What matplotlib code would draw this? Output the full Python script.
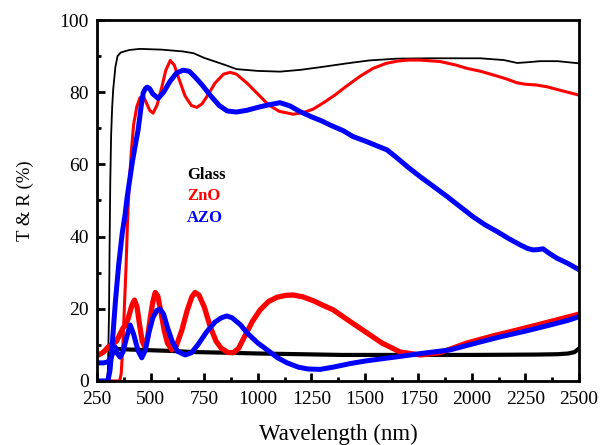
import matplotlib
matplotlib.use('Agg')
import matplotlib.pyplot as plt
from matplotlib.ticker import MultipleLocator

plt.rcParams['font.family'] = ['Liberation Serif', 'DejaVu Serif']

# Glass transmittance / reflectance
glass_t_wl = [250, 295, 300, 305, 308, 311, 315, 320, 325, 335, 345, 360, 400, 450, 550, 650, 700,
              750, 800, 850, 900, 1000, 1104, 1200, 1300, 1417, 1520, 1650, 1800, 1900, 2038,
              2150, 2211, 2260, 2318, 2400, 2500]
glass_t = [0, 0, 3, 18, 38, 55, 68, 76, 81, 87, 90, 91, 91.7, 92, 91.8, 91.3, 90.8,
           89.5, 88.5, 87.5, 86.4, 85.9, 85.7, 86.2, 87, 88, 88.8, 89.3, 89.4, 89.4, 89.4,
           88.9, 88.1, 88.3, 88.6, 88.6, 88.0]
glass_r_wl = [300, 365, 400, 500, 600, 700, 861, 1000, 1200, 1392, 1600, 2000, 2300, 2400, 2450, 2480, 2500]
glass_r = [9.0, 8.8, 8.7, 8.5, 8.3, 8.0, 7.8, 7.6, 7.4, 7.2, 7.2, 7.2, 7.3, 7.4, 7.6, 8.0, 9.0]

# ZnO
zno_t_wl = [250, 355, 362, 370, 378, 385, 392, 400, 410, 420, 435, 450, 465, 480, 495, 511, 530, 550,
            570, 591, 610, 630, 660, 690, 715, 740, 770, 800, 840, 871, 900, 950, 1000, 1050, 1100,
            1165, 1210, 1258, 1310, 1360, 1417, 1480, 1538, 1600, 1650, 1700, 1758, 1851, 1920, 1977,
            2040, 2099, 2160, 2211, 2250, 2300, 2351, 2420, 2500]
zno_t = [0, 0, 2, 10, 22, 32, 45, 55, 64, 71, 76, 78.5, 79, 77, 75, 74.2, 76.5, 81,
         86, 88.8, 87.5, 84, 79, 76.3, 75.8, 76.8, 79.5, 82.5, 85, 85.5, 85, 82.5, 79.5, 76.5, 74.7,
         73.9, 74.3, 75.3, 77.2, 79.2, 81.8, 84.5, 86.6, 88, 88.6, 88.9, 88.9, 88.5, 87.6, 86.6,
         85.8, 84.8, 83.7, 82.6, 82.2, 82.0, 81.5, 80.4, 79.2]
zno_r_wl = [250, 280, 301, 340, 371, 385, 398, 412, 424, 436, 448, 460, 472, 485, 498, 510, 521, 533,
            548, 563, 578, 599, 620, 645, 670, 692, 707, 725, 750, 778, 805, 830, 860, 885, 910, 940,
            975, 1011, 1050, 1090, 1130, 1165, 1210, 1260, 1310, 1352, 1430, 1510, 1580, 1665, 1758,
            1850, 1977, 2100, 2211, 2350, 2500]
zno_r = [7, 8, 9.4, 11, 14.7, 15.5, 18, 21, 22.4, 20.5, 15.5, 11, 9.5, 12, 17.5, 22, 24.5, 23.5,
         19, 14, 10.5, 8.6, 9.8, 14, 19.5, 23.3, 24.5, 23.8, 20.5, 15, 11, 9, 7.9, 7.8, 9, 12.5,
         16.5, 19.7, 22, 23.2, 23.7, 23.8, 23.3, 22.2, 20.8, 19.7, 16.5, 13.3, 10.5, 8.0, 7.2,
         7.8, 10.5, 12.5, 14.1, 16.2, 18.5]

# AZO
azo_t_wl = [250, 300, 310, 320, 335, 350, 367, 380, 390, 400, 415, 430, 441, 455, 465, 475, 483, 495,
            510, 535, 560, 590, 620, 650, 680, 710, 740, 780, 820, 857, 900, 950, 1000, 1050, 1104,
            1150, 1198, 1250, 1300, 1338, 1400, 1445, 1500, 1550, 1604, 1650, 1700, 1758, 1820, 1884,
            1940, 2005, 2060, 2117, 2170, 2225, 2260, 2285, 2310, 2332, 2360, 2397, 2450, 2500]
azo_t = [0, 0, 3, 10, 22, 32, 41, 46, 51, 55, 61, 66, 69.5, 76, 79.8, 81, 81.4, 81,
         79.5, 78.3, 80, 83, 85.3, 86.1, 85.8, 84, 82, 79, 76.3, 74.8, 74.5, 75, 75.8, 76.5, 77.1,
         76.2, 74.6, 73.2, 72, 70.9, 69.3, 67.7, 66.5, 65.3, 64, 61.8, 59.3, 56.6, 53.9, 51.1,
         48.5, 45.5, 43.3, 41.4, 39.5, 37.7, 36.7, 36.3, 36.4, 36.6, 35.4, 34, 32.5, 30.8]
azo_r_wl = [250, 280, 300, 315, 334, 345, 357, 370, 385, 404, 420, 440, 458, 475, 492, 510, 528, 544,
            560, 580, 600, 625, 661, 690, 720, 760, 800, 830, 855, 880, 920, 950, 1000, 1044, 1090,
            1137, 1190, 1235, 1291, 1350, 1431, 1500, 1600, 1665, 1750, 1898, 2000, 2131, 2250, 2365,
            2450, 2500]
azo_r = [5, 5, 5.3, 6.5, 9.4, 7.5, 6.6, 8, 11.5, 15.5, 13, 8.5, 6.4, 8.5, 13.5, 17.5, 19.5, 19.9,
         18.5, 14.5, 11, 8.2, 7.2, 7.8, 10, 13.5, 16.3, 17.5, 18, 17.5, 15.5, 13.3, 10.5, 8.6, 6.5,
         5, 3.8, 3.3, 3.2, 3.8, 4.8, 5.5, 6.3, 6.8, 7.5, 8.6, 10.2, 12.2, 13.8, 15.5,
         16.8, 17.8]

fig = plt.figure(figsize=(6, 4.45), dpi=100)
ax = fig.add_axes([0.162, 0.144, 0.803, 0.811])

# Glass
ax.plot(glass_t_wl, glass_t, color='black', lw=1.3)
ax.plot(glass_r_wl, glass_r, color='black', lw=3.0)
# ZnO
ax.plot(zno_t_wl, zno_t, color='red', lw=2.2)
ax.plot(zno_r_wl, zno_r, color='red', lw=3.8)
# AZO
ax.plot(azo_t_wl, azo_t, color='blue', lw=3.6)
ax.plot(azo_r_wl, azo_r, color='blue', lw=3.6)

ax.text(0.187, 0.56, 'Glass', transform=ax.transAxes, color='black', fontsize=12, fontweight='bold')
ax.text(0.187, 0.50, 'ZnO', transform=ax.transAxes, color='red', fontsize=12, fontweight='bold')
ax.text(0.187, 0.44, 'AZO', transform=ax.transAxes, color='blue', fontsize=12, fontweight='bold')

ax.set_xlim(250, 2500)
ax.set_ylim(0, 100)
ax.xaxis.set_major_locator(MultipleLocator(250))
ax.xaxis.set_minor_locator(MultipleLocator(125))
ax.yaxis.set_major_locator(MultipleLocator(20))
ax.yaxis.set_minor_locator(MultipleLocator(10))
ax.tick_params(which='both', direction='in', top=False, right=False, labelsize=14, width=2)
ax.tick_params(which='major', length=6)
ax.tick_params(axis='x', which='major', pad=7)
ax.tick_params(axis='y', which='major', pad=6)
ax.tick_params(which='minor', length=3)
for s in ax.spines.values():
    s.set_linewidth(2)

ax.set_xlabel('Wavelength (nm)', fontsize=16.5, labelpad=12)
ax.set_ylabel('T & R (%)', fontsize=13.5, labelpad=18)

plt.savefig('out.png', dpi=100)
